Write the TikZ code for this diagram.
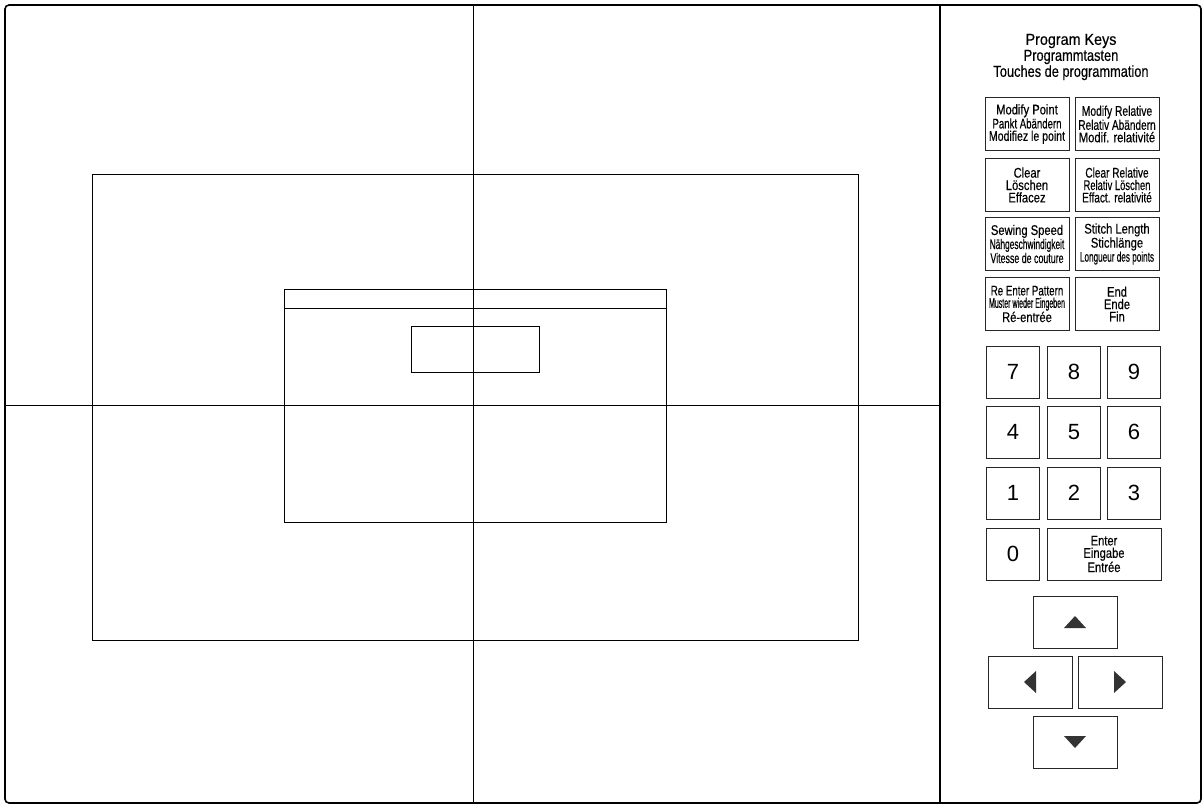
\documentclass[tikz,border=0pt]{standalone}
\usepackage{fontspec,graphicx}
\setmainfont{Liberation Sans}
\newfontfamily\condfont{Liberation Sans}[FakeStretch=0.8,FakeBold=0.4]
\newcommand\squeeze[2]{\scalebox{#1}[1]{#2}}
\tikzset{
	pkey/.style={draw=black!85,line width=.9pt,minimum width=84pt,minimum height=53pt,inner sep=0pt,align=center,font=\condfont\fontsize{14}{12.4}\selectfont},
	numkey/.style={pkey,minimum width=53pt,minimum height=52pt,font=\fontsize{22}{22}\selectfont},
	arrowkey/.style={pkey,minimum height=52pt},
	tri/.style={fill=black!80},
	title/.style={align=center,inner sep=0pt,font=\condfont\fontsize{16}{16}\selectfont}
}
\begin{document}
\begin{tikzpicture}[x=1pt,y=-1pt]
\useasboundingbox(0,0)rectangle(1204,804);
% table outline and cross
\draw[line width=1.6pt,rounded corners=4pt](5,5)rectangle(1201,803);
\draw[line width=2pt](940,5)--(940,803);
\draw[line width=1pt]
	(473,5)--(473,803)
	(5,405)--(940,405);
\draw[line width=1pt]
	(92,174)rectangle(858,640)
	(284,289)rectangle(666,522)
	(284,308)--(666,308)
	(411,326)rectangle(539,372);
% program keys
\node[title](ttl)at(1071,57){\squeeze{1.12}{Program Keys}\\Programmtasten\\Touches de programmation};
\node[pkey](modpt)at(1027,124){Modify Point\\\squeeze{.86}{Pankt Abändern}\\\squeeze{.94}{Modifiez le point}};
\node[pkey](modrel)at(1117,124){\squeeze{.92}{Modify Relative}\\\squeeze{.9}{Relativ Abändern}\\Modif. relativité};
\node[pkey](clr)at(1027,185){Clear\\Löschen\\Effacez};
\node[pkey](clrrel)at(1117,185){\squeeze{.9}{Clear Relative}\\\squeeze{.84}{Relativ Löschen}\\\squeeze{.9}{Effact. relativité}};
\node[pkey](speed)at(1027,244){Sewing Speed\\\squeeze{.75}{Nähgeschwindigkeit}\\\squeeze{.79}{Vitesse de couture}};
\node[pkey](stitch)at(1117,244){Stitch Length\\Stichlänge\\\squeeze{.73}{Longueur des points}};
\node[pkey](reent)at(1027,304){\squeeze{.87}{Re Enter Pattern}\\\squeeze{.63}{Muster wieder Eingeben}\\Ré-entrée};
\node[pkey](fin)at(1117,304){End\\Ende\\Fin};
% number keys
\foreach\n/\x/\y in{7/1013/372,8/1074/372,9/1134/372,4/1013/432,5/1074/432,6/1134/432,1/1013/493,2/1074/493,3/1134/493,0/1013/554}
	\node[numkey](k\n)at(\x,\y){\n};
\node[pkey,minimum width=114pt,minimum height=52pt](enter)at(1104,554){Enter\\Eingabe\\Entrée};
% cursor keys
\node[arrowkey](up)at(1075,622){};
\node[arrowkey](left)at(1030,682){};
\node[arrowkey](right)at(1120,682){};
\node[arrowkey](down)at(1075,742){};
\fill[tri]([shift={(0,-6)}]up.center)--([shift={(11,6)}]up.center)--([shift={(-11,6)}]up.center)--cycle;
\fill[tri]([shift={(0,6)}]down.center)--([shift={(11,-6)}]down.center)--([shift={(-11,-6)}]down.center)--cycle;
\fill[tri]([shift={(-6,0)}]left.center)--([shift={(6,-11)}]left.center)--([shift={(6,11)}]left.center)--cycle;
\fill[tri]([shift={(6,0)}]right.center)--([shift={(-6,-11)}]right.center)--([shift={(-6,11)}]right.center)--cycle;
\end{tikzpicture}
\end{document}
